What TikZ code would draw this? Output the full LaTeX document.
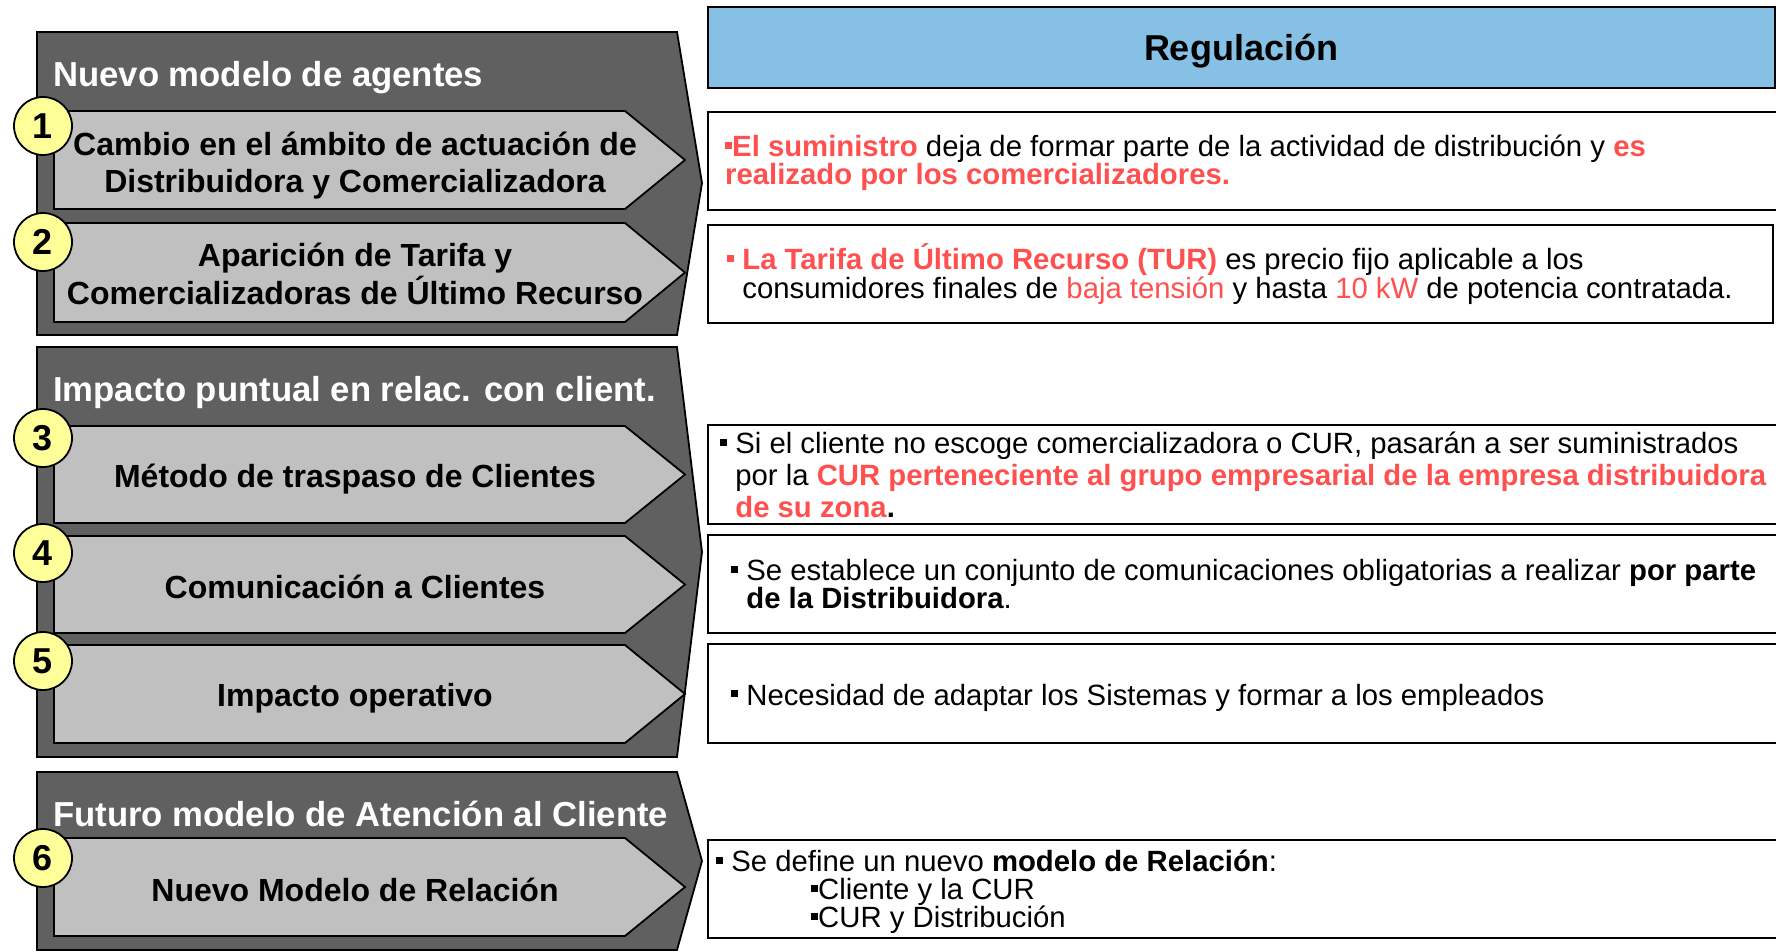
\documentclass[tikz,border=0pt]{standalone}
\usepackage{fontspec}
\setmainfont{Liberation Sans}
\definecolor{panelgray}{RGB}{96,96,96}
\definecolor{chevgray}{RGB}{192,192,192}
\definecolor{numyellow}{RGB}{255,255,153}
\definecolor{hl}{RGB}{255,80,80}
\definecolor{regblue}{RGB}{134,193,229}
\newcommand\sqb{\rule[0.26em]{0.24em}{0.24em}}
\begin{document}
\begin{tikzpicture}[x=1pt,y=-1pt,
  panel/.style={draw=black, line width=1.8pt, fill=panelgray, line join=miter},
  chev/.style={draw=black, line width=1.8pt, fill=chevgray},
  num/.style={circle, draw=black, line width=1.8pt, fill=numyellow, minimum size=58pt, inner sep=0pt, font=\fontsize{36}{36}\selectfont\bfseries},
  ptitle/.style={anchor=base west, text=white, inner sep=0pt, font=\fontsize{34.7}{40}\selectfont\bfseries},
  ctext/.style={align=center, inner sep=0pt, font=\fontsize{32}{37.5}\selectfont\bfseries},
  rbox/.style={draw=black, line width=2pt, fill=white},
  rtext/.style={anchor=west, align=left, inner sep=0pt},
]
\useasboundingbox (0,0) rectangle (1776,952);

% ---------- left panels ----------
\draw[panel] (37,32) -- (677,32) -- (702,183) -- (677,335) -- (37,335) -- cycle;
\draw[panel] (37,347) -- (677,347) -- (702,552) -- (677,757) -- (37,757) -- cycle;
\draw[panel] (37,772) -- (677,772) -- (702,861) -- (677,950) -- (37,950) -- cycle;

\node[ptitle] (p1) at (53,87) {Nuevo modelo de agentes};
\node[ptitle] (p2) at (53,401) {Impacto puntual en relac. con client.};
\node[ptitle] (p3) at (53,826) {Futuro modelo de Atención al Cliente};

% chevrons
\draw[chev] (54,111) -- (625,111) -- (685,160) -- (625,209) -- (54,209) -- cycle;
\draw[chev] (54,223) -- (625,223) -- (685,272.5) -- (625,322) -- (54,322) -- cycle;
\draw[chev] (54,426) -- (625,426) -- (685,474.5) -- (625,523) -- (54,523) -- cycle;
\draw[chev] (54,536) -- (625,536) -- (685,584.5) -- (625,633) -- (54,633) -- cycle;
\draw[chev] (54,645) -- (625,645) -- (685,694) -- (625,743) -- (54,743) -- cycle;
\draw[chev] (54,838) -- (625,838) -- (685,887) -- (625,936) -- (54,936) -- cycle;

\node[ctext] (c1) at (355,165.5) {Cambio en el ámbito de actuación de\\Distribuidora y Comercializadora};
\node[ctext] (c2) at (355,274) {Aparición de Tarifa y\\Comercializadoras de Último Recurso};
\node[ctext] (c3) at (355,479.5) {Método de traspaso de Clientes};
\node[ctext] (c4) at (355,586.5) {Comunicación a Clientes};
\node[ctext] (c5) at (355,698.5) {Impacto operativo};
\node[ctext] (c6) at (355,890) {Nuevo Modelo de Relación};

\node[num] (n1) at (43,126) {1};
\node[num] (n2) at (43,242) {2};
\node[num] (n3) at (43,438) {3};
\node[num] (n4) at (43,553) {4};
\node[num] (n5) at (43,661) {5};
\node[num] (n6) at (43,858) {6};

% ---------- right side ----------
\draw[draw=black, line width=2pt, fill=regblue] (708,7) rectangle (1775,88);
\node[font=\fontsize{36}{40}\selectfont\bfseries, inner sep=0pt] (reg) at (1241,51.5) {Regulación};

\draw[rbox] (708,112) rectangle (1790,210);
\draw[rbox] (708,225) rectangle (1773,323);
\draw[rbox] (708,425) rectangle (1790,524);
\draw[rbox] (708,535) rectangle (1790,633);
\draw[rbox] (708,644) rectangle (1790,743);
\draw[rbox] (708,840) rectangle (1790,938);

\node[rtext, font=\fontsize{29.3}{28}\selectfont] (t1) at (725,163)
  {\textcolor{hl}{\sqb\textbf{El suministro}} deja de formar parte de la actividad de distribución y \textcolor{hl}{\textbf{es}}\\
   \textcolor{hl}{\textbf{realizado por los comercializadores.}}};

\node[rtext, font=\fontsize{29.3}{29.5}\selectfont] (t2) at (727,274)
  {\textcolor{hl}{\sqb\ \textbf{La Tarifa de Último Recurso (TUR)}} es precio fijo aplicable a los\\
   \phantom{\sqb\ }consumidores finales de \textcolor{hl}{baja tensión} y hasta \textcolor{hl}{10 kW} de potencia contratada.};

\node[rtext, font=\fontsize{29.3}{32}\selectfont] (t3) at (720,475)
  {\sqb\ Si el cliente no escoge comercializadora o CUR, pasarán a ser suministrados\\
   \phantom{\sqb\ }por la \textcolor{hl}{\textbf{CUR perteneciente al grupo empresarial de la empresa distribuidora}}\\
   \phantom{\sqb\ }\textcolor{hl}{\textbf{de su zona}}\textbf{.}};

\node[rtext, font=\fontsize{29.3}{28}\selectfont] (t4) at (731,584)
  {\sqb\ Se establece un conjunto de comunicaciones obligatorias a realizar \textbf{por parte}\\
   \phantom{\sqb\ }\textbf{de la Distribuidora}.};

\node[rtext, font=\fontsize{29.3}{28}\selectfont] (t5) at (731,697.5)
  {\sqb\ Necesidad de adaptar los Sistemas y formar a los empleados};

\node[rtext, font=\fontsize{29.3}{28}\selectfont] (t6) at (716,892)
  {\sqb\ Se define un nuevo \textbf{modelo de Relación}:\\
   \hspace*{95pt}\sqb Cliente y la CUR\\
   \hspace*{95pt}\sqb CUR y Distribución};
\end{tikzpicture}
\end{document}
